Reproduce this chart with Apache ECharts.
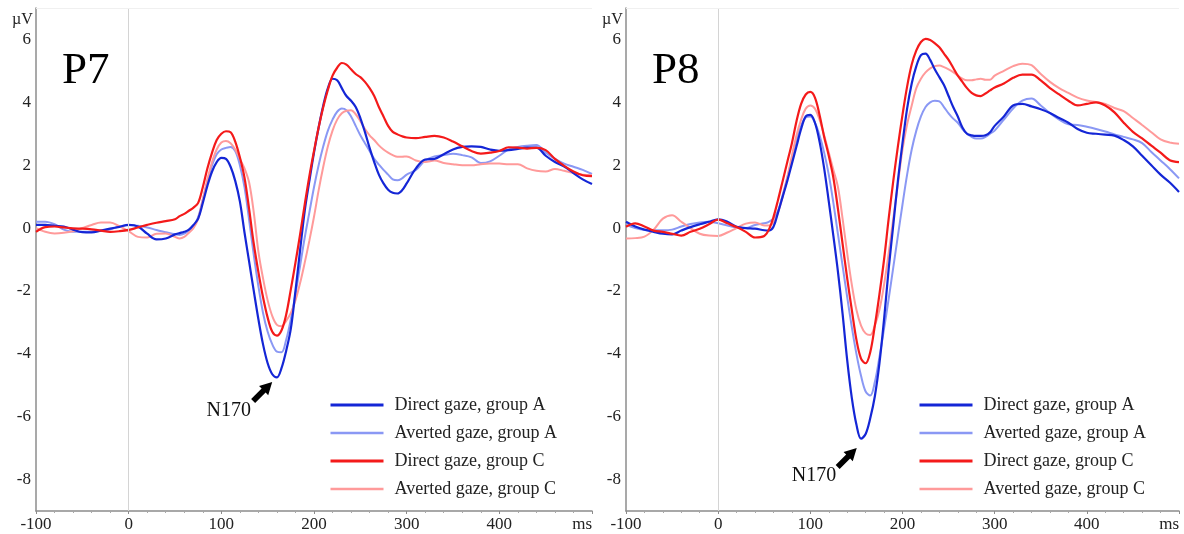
<!DOCTYPE html>
<html>
<head>
<meta charset="utf-8">
<script src="https://cdn.jsdelivr.net/npm/echarts@6/dist/echarts.min.js"></script>
<style>
  html, body { margin: 0; padding: 0; background: #fff; }
  #chart { width: 1184px; height: 534px; }
</style>
</head>
<body>
<div id="chart"></div>
<script>
// sample times (ms), denser around the components
const times = [-100, -90, -80, -70, -60, -50, -40, -30, -20, -10, 0, 10, 20, 30, 40, 50,
  55, 60, 65, 70, 75, 80, 85, 90, 95, 100, 105, 110, 115, 120, 125, 130, 135, 140, 145, 150,
  155, 160, 165, 170, 175, 180, 185, 190, 195, 200, 205, 210, 215, 220, 225, 230, 235, 240, 245, 250,
  255, 260, 265, 270, 275, 280, 285, 290, 295, 300,
  310, 320, 330, 340, 350, 360, 370, 380, 390, 400, 410, 420, 430, 440, 450, 460, 470, 480, 490, 500];

const seriesNames = ['Direct gaze, group A', 'Averted gaze, group A', 'Direct gaze, group C', 'Averted gaze, group C'];
const yTickLabels = [-8, -6, -4, -2, 0, 2, 4, 6];

// P7 (µV)
const p7DirectA = [0.10, 0.10, 0.07, 0.05, -0.05, -0.13, -0.14, -0.08, -0.02, 0.04, 0.10, 0.05, -0.18, -0.36, -0.33, -0.20,
  -0.16, -0.12, -0.05, 0.10, 0.30, 0.80, 1.35, 1.80, 2.10, 2.23, 2.20, 1.95, 1.50, 0.85, -0.14, -1.07, -2.00, -2.90, -3.70, -4.30,
  -4.65, -4.75, -4.45, -3.90, -3.20, -2.00, -0.70, 0.55, 1.50, 2.40, 3.20, 3.90, 4.45, 4.75, 4.70, 4.45, 4.20, 4.05, 3.85, 3.50,
  3.05, 2.55, 2.10, 1.70, 1.42, 1.22, 1.12, 1.10, 1.20, 1.42,
  1.90, 2.18, 2.20, 2.35, 2.50, 2.58, 2.60, 2.58, 2.50, 2.46, 2.48, 2.52, 2.56, 2.56, 2.30, 2.10, 1.96, 1.75, 1.55, 1.40];
const p7AvertedA = [0.20, 0.20, 0.12, -0.05, -0.12, -0.12, -0.12, -0.08, -0.04, 0.05, 0.10, 0.07, 0.02, -0.06, -0.13, -0.20,
  -0.22, -0.18, -0.08, 0.05, 0.35, 0.90, 1.50, 2.00, 2.35, 2.50, 2.55, 2.58, 2.45, 2.00, 1.30, 0.25, -0.85, -1.85, -2.70, -3.30,
  -3.70, -3.93, -3.95, -3.55, -2.90, -2.10, -1.20, -0.30, 0.50, 1.30, 2.00, 2.60, 3.10, 3.45, 3.70, 3.80, 3.75, 3.55, 3.25, 2.95,
  2.70, 2.45, 2.20, 2.02, 1.85, 1.70, 1.55, 1.52, 1.58, 1.70,
  1.85, 2.15, 2.28, 2.32, 2.36, 2.32, 2.25, 2.07, 2.12, 2.30, 2.50, 2.58, 2.62, 2.64, 2.40, 2.20, 2.05, 1.95, 1.85, 1.72];
const p7DirectC = [-0.12, 0.03, 0.05, 0.02, -0.01, -0.02, -0.04, -0.08, -0.12, -0.10, -0.06, 0.02, 0.10, 0.17, 0.22, 0.28,
  0.38, 0.45, 0.55, 0.65, 0.80, 1.30, 1.90, 2.40, 2.80, 3.00, 3.08, 3.05, 2.75, 2.25, 1.60, 0.60, -0.50, -1.40, -2.20, -2.85,
  -3.30, -3.42, -3.25, -2.75, -1.95, -1.10, -0.20, 0.75, 1.65, 2.45, 3.20, 3.85, 4.40, 4.85, 5.10, 5.25, 5.20, 5.05, 4.90, 4.80,
  4.65, 4.45, 4.20, 3.85, 3.55, 3.25, 3.06, 2.98, 2.92, 2.88,
  2.86, 2.90, 2.93, 2.88, 2.75, 2.60, 2.45, 2.37, 2.40, 2.45, 2.57, 2.56, 2.53, 2.55, 2.48, 2.20, 1.98, 1.80, 1.68, 1.65];
const p7AvertedC = [0.00, -0.12, -0.17, -0.15, -0.10, 0.00, 0.10, 0.18, 0.18, 0.06, -0.10, -0.28, -0.30, -0.18, -0.17, -0.28,
  -0.33, -0.28, -0.15, 0.00, 0.30, 0.90, 1.55, 2.10, 2.50, 2.72, 2.77, 2.70, 2.50, 2.20, 1.90, 1.45, 0.50, -0.75, -1.60, -2.30,
  -2.80, -3.08, -3.12, -2.95, -2.70, -2.30, -1.75, -1.10, -0.40, 0.36, 1.20, 1.95, 2.60, 3.10, 3.45, 3.65, 3.73, 3.75, 3.62, 3.40,
  3.15, 2.95, 2.80, 2.63, 2.50, 2.40, 2.32, 2.27, 2.27, 2.28,
  2.15, 2.10, 2.15, 2.07, 2.03, 2.00, 2.00, 2.03, 2.05, 2.05, 2.03, 2.03, 1.90, 1.82, 1.80, 1.88, 1.82, 1.75, 1.70, 1.68];

// P8 (µV)
const p8DirectA = [0.20, 0.05, -0.05, -0.12, -0.18, -0.20, -0.08, 0.03, 0.12, 0.20, 0.28, 0.20, 0.04, 0.00, -0.02, -0.07,
  -0.08, 0.04, 0.50, 1.00, 1.50, 2.05, 2.60, 3.15, 3.55, 3.60, 3.35, 2.75, 1.90, 0.85, -0.25, -1.40, -2.73, -4.20, -5.40, -6.25,
  -6.70, -6.55, -6.05, -5.35, -4.30, -2.90, -1.30, 0.10, 1.50, 2.70, 3.80, 4.60, 5.15, 5.50, 5.55, 5.35, 5.05, 4.80, 4.55, 4.20,
  3.85, 3.55, 3.20, 3.00, 2.95, 2.93, 2.93, 2.95, 3.05, 3.25,
  3.55, 3.90, 3.95, 3.87, 3.78, 3.66, 3.50, 3.35, 3.15, 3.03, 3.00, 2.97, 2.94, 2.80, 2.60, 2.30, 2.00, 1.70, 1.45, 1.15];
const p8AvertedA = [0.10, 0.00, -0.06, -0.07, -0.07, -0.05, 0.05, 0.13, 0.18, 0.20, 0.15, 0.08, 0.02, 0.00, 0.10, 0.15,
  0.20, 0.30, 0.55, 1.05, 1.60, 2.20, 2.80, 3.25, 3.52, 3.55, 3.35, 2.95, 2.40, 1.70, 0.80, -0.20, -1.20, -2.20, -3.15, -4.00,
  -4.70, -5.20, -5.33, -4.90, -4.10, -3.20, -2.25, -1.25, -0.25, 0.75, 1.70, 2.50, 3.10, 3.55, 3.85, 4.00, 4.05, 4.03, 3.85, 3.65,
  3.48, 3.35, 3.15, 3.00, 2.90, 2.85, 2.85, 2.90, 3.00, 3.10,
  3.45, 3.80, 4.05, 4.12, 3.90, 3.65, 3.45, 3.30, 3.28, 3.22, 3.15, 3.07, 2.98, 2.90, 2.82, 2.70, 2.42, 2.15, 1.88, 1.58];
const p8DirectC = [0.04, 0.15, 0.05, -0.08, -0.12, -0.18, -0.24, -0.12, -0.02, 0.12, 0.27, 0.15, 0.03, -0.12, -0.30, -0.25,
  -0.05, 0.35, 0.90, 1.50, 2.10, 2.70, 3.40, 3.95, 4.25, 4.33, 4.15, 3.60, 2.90, 2.30, 1.60, 0.60, -0.50, -1.60, -2.60, -3.55,
  -4.15, -4.30, -3.95, -3.10, -2.10, -1.00, 0.30, 1.50, 2.60, 3.60, 4.50, 5.20, 5.65, 5.92, 6.02, 5.98, 5.88, 5.75, 5.55, 5.35,
  5.10, 4.85, 4.65, 4.45, 4.30, 4.22, 4.20, 4.28, 4.38, 4.47,
  4.60, 4.78, 4.88, 4.88, 4.70, 4.45, 4.25, 4.05, 3.90, 3.95, 4.00, 3.90, 3.68, 3.35, 3.06, 2.85, 2.62, 2.40, 2.16, 2.10];
const p8AvertedC = [-0.33, -0.32, -0.27, -0.05, 0.30, 0.41, 0.20, 0.00, -0.18, -0.24, -0.25, -0.14, 0.00, 0.14, 0.18, 0.08,
  0.08, 0.18, 0.50, 1.00, 1.60, 2.30, 2.95, 3.45, 3.80, 3.90, 3.80, 3.45, 2.95, 2.40, 1.85, 1.30, 0.30, -0.80, -1.80, -2.60,
  -3.10, -3.35, -3.40, -3.10, -2.60, -1.80, -0.80, 0.30, 1.40, 2.50, 3.30, 3.90, 4.45, 4.75, 4.95, 5.08, 5.15, 5.17, 5.12, 5.05,
  4.96, 4.85, 4.75, 4.70, 4.70, 4.73, 4.75, 4.72, 4.72, 4.85,
  5.00, 5.15, 5.23, 5.18, 4.90, 4.65, 4.45, 4.30, 4.15, 4.06, 4.01, 3.95, 3.82, 3.72, 3.50, 3.28, 3.05, 2.82, 2.72, 2.68];

const SERIF = 'Liberation Serif, DejaVu Serif, serif';
const colors = { directA: '#1426d6', avertedA: '#8a98f4', directC: '#f41a1a', avertedC: '#ff9a9a' };
const arrowPath = 'path://M6,0 L12,9 L8.6,9 L8.6,20 L3.4,20 L3.4,9 L0,9 Z';

function pairs (values) {
  return times.map((t, i) => [t, values[i]]);
}

function line (name, values, grid, color, width, extra) {
  return Object.assign({
    name: name,
    type: 'line',
    xAxisIndex: grid,
    yAxisIndex: grid,
    data: pairs(values),
    symbol: 'none',
    showSymbol: false,
    smooth: 0.35,
    silent: true,
    lineStyle: { color: color, width: width },
    itemStyle: { color: color }
  }, extra || {});
}

function zeroLines () {
  return {
    silent: true,
    symbol: ['none', 'none'],
    label: { show: false },
    data: [
      { xAxis: 0, lineStyle: { color: '#d4d4d4', width: 1, type: 'solid' } },
      { yAxis: 7, lineStyle: { color: '#f0f0f0', width: 1, type: 'solid' } }
    ]
  };
}

function n170 (arrowAt, textAt) {
  return {
    silent: true,
    animation: false,
    data: [
      { coord: arrowAt, symbol: arrowPath, symbolSize: [13, 27], symbolRotate: -45, itemStyle: { color: '#000' }, label: { show: false } },
      { coord: textAt, symbol: 'circle', symbolSize: 1, itemStyle: { color: 'rgba(0,0,0,0)' },
        label: { show: true, position: 'inside', formatter: 'N170', fontFamily: SERIF, fontSize: 20, color: '#111' } }
    ]
  };
}

function xAxis (grid) {
  return {
    gridIndex: grid,
    type: 'value',
    min: -100,
    max: 500,
    interval: 100,
    axisLine: { show: true, onZero: false, lineStyle: { color: '#8c8c8c', width: 1.5 } },
    axisTick: { show: true, length: 3, lineStyle: { color: '#8c8c8c' } },
    minorTick: { show: true, splitNumber: 5, length: 2, lineStyle: { color: '#a8a8a8' } },
    splitLine: { show: false },
    axisLabel: {
      fontFamily: SERIF, fontSize: 17, color: '#222', margin: 5,
      showMaxLabel: true, alignMaxLabel: 'right',
      formatter: (v) => (v === 500 ? 'ms' : String(v))
    }
  };
}

function yAxis (grid) {
  return {
    gridIndex: grid,
    type: 'value',
    min: -9,
    max: 7,
    interval: 1,
    axisLine: { show: true, onZero: false, lineStyle: { color: '#8c8c8c', width: 1.5 } },
    axisTick: { show: false },
    splitLine: { show: false },
    axisLabel: {
      fontFamily: SERIF, fontSize: 17, color: '#222', margin: 5,
      formatter: (v) => (yTickLabels.indexOf(v) >= 0 ? String(v) : '')
    }
  };
}

function legend (left) {
  return {
    data: seriesNames.map((name, i) => ({ name: name, lineStyle: { width: i % 2 === 0 ? 3 : 2.5 } })),
    orient: 'vertical',
    left: left,
    top: 391,
    itemWidth: 53,
    itemHeight: 14,
    itemGap: 10,
    selectedMode: false,
    itemStyle: { opacity: 0 },
    textStyle: { fontFamily: SERIF, fontSize: 18, lineHeight: 18, color: '#222', padding: [0, 0, 0, 6] }
  };
}

const chart = echarts.init(document.getElementById('chart'));
chart.setOption({
  animation: false,
  backgroundColor: '#fff',
  title: [
    { text: 'P7', left: 57, top: 44, textStyle: { fontFamily: SERIF, fontSize: 45, fontWeight: 'normal', color: '#000' } },
    { text: 'P8', left: 647, top: 44, textStyle: { fontFamily: SERIF, fontSize: 45, fontWeight: 'normal', color: '#000' } }
  ],
  graphic: [
    { type: 'text', left: 12, top: 12, style: { text: 'µV', font: '16px ' + SERIF, fill: '#222' } },
    { type: 'text', left: 602, top: 12, style: { text: 'µV', font: '16px ' + SERIF, fill: '#222' } }
  ],
  legend: [legend(324), legend(913)],
  grid: [
    { left: 36, top: 8, width: 556, height: 503 },
    { left: 626, top: 8, width: 553, height: 503 }
  ],
  xAxis: [xAxis(0), xAxis(1)],
  yAxis: [yAxis(0), yAxis(1)],
  series: [
    line(seriesNames[1], p7AvertedA, 0, colors.avertedA, 2, { markLine: zeroLines() }),
    line(seriesNames[3], p7AvertedC, 0, colors.avertedC, 2),
    line(seriesNames[0], p7DirectA, 0, colors.directA, 2.2, { markPoint: n170([144.6, -5.2], [107.9, -5.81]) }),
    line(seriesNames[2], p7DirectC, 0, colors.directC, 2.2),
    line(seriesNames[1], p8AvertedA, 1, colors.avertedA, 2, { markLine: zeroLines() }),
    line(seriesNames[3], p8AvertedC, 1, colors.avertedC, 2),
    line(seriesNames[0], p8DirectA, 1, colors.directA, 2.2, { markPoint: n170([140, -7.3], [104, -7.87]) }),
    line(seriesNames[2], p8DirectC, 1, colors.directC, 2.2)
  ]
});
</script>
</body>
</html>
